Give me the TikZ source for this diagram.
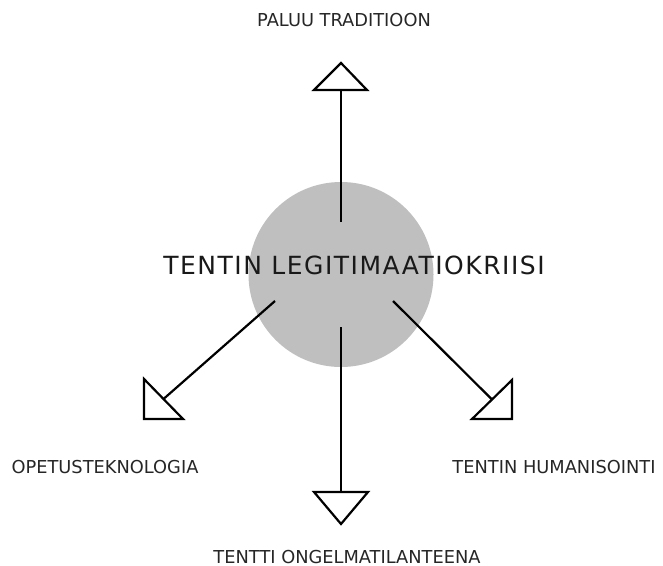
\documentclass[tikz,border=0pt]{standalone}
\usepackage{fontspec}
\setmainfont{DejaVu Sans}
\newfontfamily\titlefont[LetterSpace=6]{DejaVu Sans}
\begin{document}
\begin{tikzpicture}[x=1bp,y=-1bp,
  lbl/.style={inner sep=0pt,anchor=base,font=\fontsize{17.8bp}{20bp}\selectfont,text=black!85},
  ttl/.style={inner sep=0pt,anchor=base,font=\titlefont\fontsize{25bp}{28bp}\selectfont,text=black!90},
  conn/.style={line width=2.2bp,black},
  tri/.style={line width=2.2bp,black,fill=white,line join=miter}]
\useasboundingbox (0,0) rectangle (663,566);
\node[circle,fill=black!25,minimum size=185bp,inner sep=0pt] (c) at (341,274.5) {};
% top
\coordinate (t1) at (341,222);
\coordinate (t2) at (341,90);
\draw[conn] (t1) -- (t2);
\draw[tri] (314,90) -- (367,90) -- (341,63) -- cycle;
% bottom
\coordinate (b1) at (341,327);
\coordinate (b2) at (341,492);
\draw[conn] (b1) -- (b2);
\draw[tri] (314,492) -- (368,492) -- (341,524) -- cycle;
% left
\coordinate (l1) at (275,301);
\coordinate (l2) at (163.5,399);
\draw[conn] (l1) -- (l2);
\draw[tri] (144,379) -- (144,419) -- (183,419) -- cycle;
% right
\coordinate (r1) at (393,301);
\coordinate (r2) at (492,399.5);
\draw[conn] (r1) -- (r2);
\draw[tri] (512,380) -- (512,419) -- (472,419) -- cycle;
% texts
\node[ttl] (title) at (354,274) {TENTIN LEGITIMAATIOKRIISI};
\node[lbl] (n) at (344,27) {PALUU TRADITIOON};
\node[lbl] (w) at (105,473) {OPETUSTEKNOLOGIA};
\node[lbl] (e) at (554,473) {TENTIN HUMANISOINTI};
\node[lbl] (s) at (347,563) {TENTTI ONGELMATILANTEENA};
\end{tikzpicture}
\end{document}
